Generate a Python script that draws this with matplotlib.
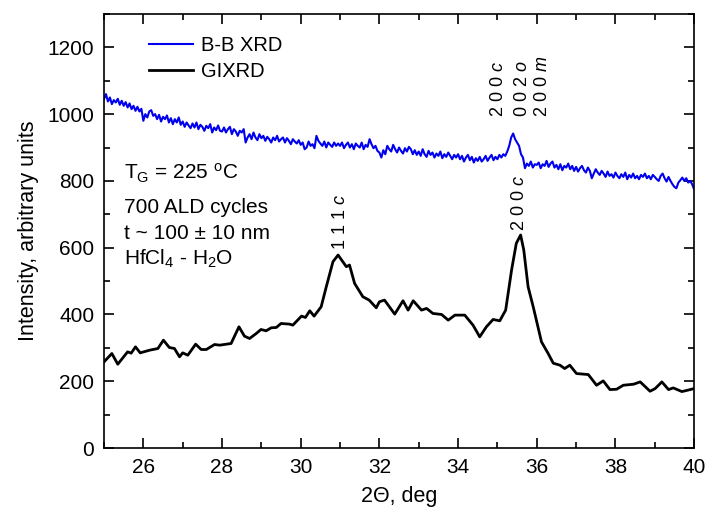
import numpy as np
import matplotlib.pyplot as plt
from matplotlib.ticker import MultipleLocator

plt.rcParams['font.family'] = ['Liberation Sans', 'DejaVu Sans']
plt.rcParams['mathtext.fontset'] = 'custom'
plt.rcParams['mathtext.rm'] = 'Liberation Sans'
plt.rcParams['mathtext.it'] = 'Liberation Sans:italic'

# B-B XRD scan, 0.05 deg steps from 25 to 40
bb_theta = np.linspace(25.0, 40.0, 301)
bb_counts = [
    1045, 1060, 1038, 1050, 1030, 1042, 1035, 1046, 1028, 1040, 1025, 1036, 1020, 1032, 1015, 1025, 1010, 1022, 1008, 1016,
    980, 1000, 990, 1008, 1012, 995, 1000, 985, 998, 978, 992, 985, 996, 975, 988, 970, 985, 975, 990, 968,
    978, 962, 975, 966, 958, 972, 960, 975, 955, 968, 962, 950, 965, 958, 970, 945, 960, 952, 966, 950,
    948, 960, 945, 955, 962, 940, 955, 948, 935, 950, 945, 955, 915, 930, 940, 925, 945, 930, 922, 940,
    928, 935, 920, 932, 925, 915, 930, 922, 935, 918, 925, 930, 915, 928, 920, 910, 925, 918, 912, 922,
    908, 915, 895, 900, 918, 905, 910, 898, 935, 920, 912, 905, 918, 900, 915, 908, 902, 915, 905, 912,
    905, 915, 898, 908, 915, 900, 910, 895, 912, 905, 900, 915, 895, 908, 902, 925, 910, 898, 905, 890,
    885, 870, 892, 880, 905, 895, 888, 908, 895, 885, 900, 890, 882, 898, 888, 902, 895, 880, 892, 878,
    888, 875, 895, 880, 872, 890, 878, 885, 870, 882, 875, 888, 868, 880, 872, 885, 875, 865, 878, 870,
    880, 865, 875, 858, 870, 878, 862, 872, 855, 868, 860, 872, 858, 865, 875, 860, 870, 878, 862, 872,
    865, 878, 870, 880, 875, 888, 905, 930, 942, 925, 915, 905, 880, 870, 838, 852, 845, 858, 840, 850,
    848, 855, 838, 850, 845, 860, 842, 852, 858, 840, 848, 835, 850, 832, 845, 840, 852, 835, 845, 830,
    842, 828, 838, 845, 832, 825, 840, 830, 808, 822, 835, 825, 818, 830, 822, 812, 828, 815, 820, 810,
    825, 815, 808, 820, 812, 825, 805, 818, 810, 822, 808, 815, 805, 818, 812, 822, 808, 815, 805, 818,
    812, 805, 800, 815, 822, 808, 798, 812, 800, 790, 782, 778, 795, 802, 810, 800, 808, 795, 800, 790,
    775,
]

# GIXRD scan
gi_theta = [
    25.0, 25.2, 25.35, 25.6, 25.69, 25.8, 25.92, 26.16, 26.37, 26.51,
    26.66, 26.79, 26.92, 27.0, 27.13, 27.33, 27.47, 27.6, 27.81, 27.94,
    28.23, 28.43, 28.57, 28.7, 28.87, 28.99, 29.12, 29.25, 29.38, 29.5,
    29.72, 29.8, 30.02, 30.12, 30.23, 30.34, 30.52, 30.65, 30.82, 30.95,
    31.07, 31.16, 31.24, 31.37, 31.58, 31.74, 31.92, 32.0, 32.13, 32.39,
    32.6, 32.73, 32.86, 33.07, 33.2, 33.36, 33.58, 33.75, 33.92, 34.17,
    34.38, 34.55, 34.72, 34.89, 35.06, 35.21, 35.36, 35.48, 35.59, 35.67,
    35.78, 35.91, 36.12, 36.29, 36.42, 36.59, 36.71, 36.84, 37.01, 37.31,
    37.52, 37.69, 37.86, 38.03, 38.2, 38.46, 38.63, 38.88, 39.01, 39.18,
    39.35, 39.47, 39.69, 39.9, 40.0,
]
gi_counts = [
    258, 283, 251, 288, 284, 303, 285, 293, 298, 323,
    301, 298, 273, 285, 278, 311, 295, 295, 310, 308,
    313, 363, 335, 328, 343, 355, 351, 360, 361, 373,
    371, 368, 395, 391, 411, 395, 423, 483, 558, 578,
    558, 543, 548, 493, 453, 443, 420, 438, 443, 401,
    441, 413, 441, 413, 418, 403, 400, 383, 398, 398,
    368, 333, 363, 385, 381, 413, 533, 613, 638, 593,
    483, 423, 318, 283, 254, 248, 238, 248, 223, 220,
    188, 201, 175, 176, 188, 191, 198, 170, 178, 198,
    175, 180, 169, 175, 178,
]

# reflection labels: (text, x position, bottom of label)
peak_labels = [
    (r'1 1 1 $\it{c}$', 31.0, 593),
    (r'2 0 0 $\it{c}$', 35.57, 650),
    (r'2 0 0 $\it{c}$', 35.02, 992),
    (r'0 0 2 $\it{o}$', 35.65, 992),
    (r'2 0 0 $\it{m}$', 36.15, 992),
]

sample_info = [
    r'T$_{\mathrm{G}}$ = 225 $^{\mathrm{o}}$C',
    '700 ALD cycles',
    't ~ 100 \u00b1 10 nm',
    r'HfCl$_{4}$ - H$_{2}$O',
]
info_baselines = [805, 703, 626, 548]

fig = plt.figure(figsize=(7.09, 5.12), dpi=100)
ax = fig.add_axes([0.1467, 0.125, 0.8323, 0.8477])

ax.plot(bb_theta, bb_counts, color='#0000ee', lw=1.5, label='B-B XRD')
ax.plot(gi_theta, gi_counts, color='black', lw=2.0, label='GIXRD')

ax.set_xlim(25, 40)
ax.set_ylim(0, 1300)
ax.xaxis.set_major_locator(MultipleLocator(2))
ax.xaxis.set_minor_locator(MultipleLocator(1))
ax.yaxis.set_major_locator(MultipleLocator(200))
ax.yaxis.set_minor_locator(MultipleLocator(100))
ax.tick_params(which='both', direction='in', top=True, right=True,
               labelsize=15, width=1.2, pad=7)
ax.tick_params(which='major', length=7)
ax.tick_params(which='minor', length=4)
for s in ax.spines.values():
    s.set_linewidth(1.2)

ax.set_xlabel('2\u0398, deg', fontsize=15.5, labelpad=7)
ax.set_ylabel('Intensity, arbitrary units', fontsize=15.5, labelpad=6)

for txt, x, y in peak_labels:
    ax.text(x, y, txt, rotation=90, ha='center', va='bottom', fontsize=13)

for line, yb in zip(sample_info, info_baselines):
    ax.text(25.5, yb, line, fontsize=15, va='baseline', ha='left')

ax.legend(loc='upper left', bbox_to_anchor=(0.045, 0.99), frameon=False,
          fontsize=14.5, handlelength=2.2, handletextpad=0.4, labelspacing=0.35)

fig.savefig('out.png', dpi=100)
